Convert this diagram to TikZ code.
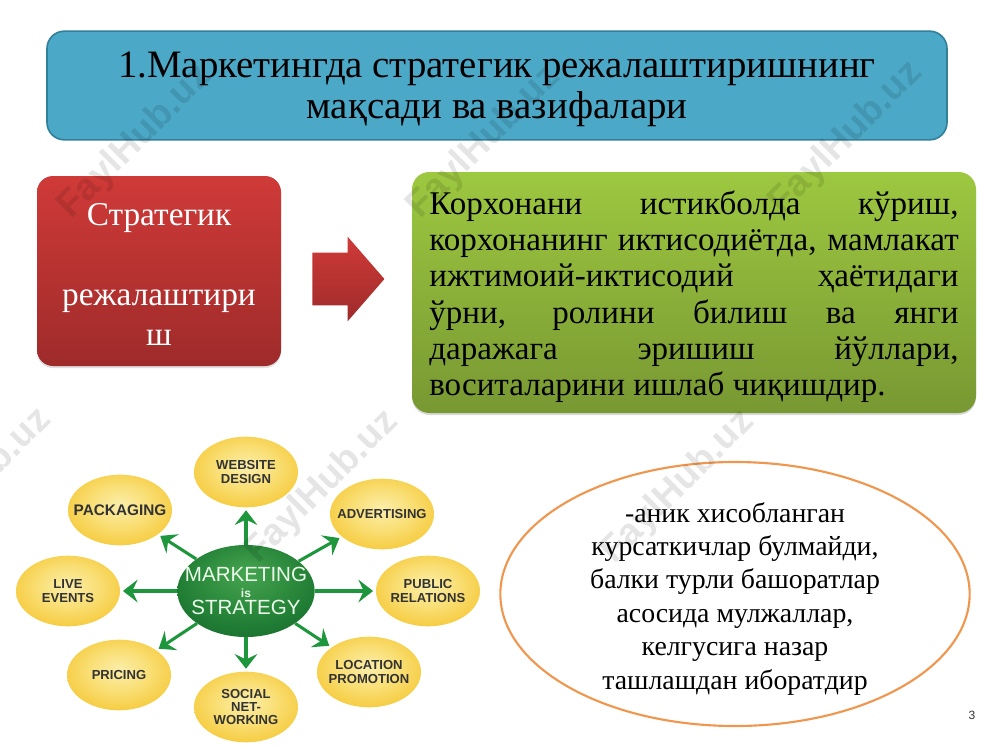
\documentclass[tikz,border=0pt]{standalone}
\usepackage{fontspec}
\setmainfont{Liberation Serif}
\newfontfamily\sansfont{Liberation Sans}
\usetikzlibrary{shapes.geometric, shapes.arrows, arrows.meta, shadows}

\definecolor{titlefill}{RGB}{75,168,199}
\definecolor{titleedge}{RGB}{49,128,154}
\definecolor{redtop}{RGB}{207,58,56}
\definecolor{redbot}{RGB}{158,43,42}
\definecolor{greentop}{RGB}{157,200,64}
\definecolor{greenbot}{RGB}{120,152,50}
\definecolor{ovaledge}{RGB}{240,151,79}
\definecolor{arrowgreen}{RGB}{30,150,60}
\definecolor{ballone}{RGB}{251,238,170}
\definecolor{balltwo}{RGB}{249,222,115}
\definecolor{ballthree}{RGB}{245,198,48}
\definecolor{ballfour}{RGB}{238,178,32}
\definecolor{hubone}{RGB}{70,165,80}
\definecolor{hubtwo}{RGB}{32,125,52}
\definecolor{hubthree}{RGB}{14,84,36}

\pgfdeclareradialshading{yellowball}{\pgfpoint{0bp}{4bp}}{
  color(0bp)=(ballone);
  color(15bp)=(balltwo);
  color(32bp)=(ballthree);
  color(50bp)=(ballfour);
  color(60bp)=(ballfour)}
\pgfdeclareradialshading{greenball}{\pgfpoint{0bp}{10bp}}{
  color(0bp)=(hubone);
  color(25bp)=(hubtwo);
  color(48bp)=(hubthree);
  color(60bp)=(hubthree)}

\newcommand{\firstline}[1]{\rule{0pt}{#1}}

\tikzset{
  titlebox/.style={draw=titleedge, line width=1.2pt, fill=titlefill, rounded corners=13pt, minimum width=675pt, minimum height=81.5pt, align=center, font=\fontsize{29.1}{31}\selectfont},
  redbox/.style={top color=redtop, bottom color=redbot, rounded corners=12pt, minimum width=183pt, minimum height=142.5pt, align=center, text=white, font=\fontsize{25}{30}\selectfont, drop shadow={opacity=.25, shadow xshift=0pt, shadow yshift=-1.5pt}},
  greenbox/.style={top color=greentop, bottom color=greenbot, rounded corners=13pt, minimum width=423pt, minimum height=180.75pt, font=\fontsize{24.8}{27.1}\selectfont, text width=397pt, align=justify, drop shadow={opacity=.3, shadow xshift=0pt, shadow yshift=-1.5pt}},
  redarrow/.style={single arrow, top color=redtop, bottom color=redbot, minimum height=54pt, single arrow head extend=12pt, single arrow tip angle=98, inner xsep=0pt, inner ysep=19.5pt},
  ovalnode/.style={ellipse, draw=ovaledge, line width=1.6pt, minimum width=352pt, minimum height=198pt, inner sep=-40pt, align=center, font=\fontsize{20.85}{25.1}\selectfont},
  ball/.style={ellipse, shading=yellowball, minimum width=78pt, minimum height=53pt, inner xsep=-22pt, inner ysep=-8pt, align=center, font=\sansfont\bfseries\fontsize{9.8}{10}\selectfont, text=black!80},
  hubball/.style={ellipse, shading=greenball, minimum width=103pt, minimum height=69pt, inner xsep=-30pt, inner ysep=-14pt, align=center, font=\sansfont\fontsize{15.4}{15}\selectfont, text=white!92!green},
  greenarrow/.style={draw=arrowgreen, line width=2.3pt, shorten >=2pt, -{Stealth[length=11pt, width=17pt, inset=4pt]}},
  watermark/.style={rotate=45, opacity=.1, font=\sansfont\bfseries\fontsize{28}{28}\selectfont, text=black},
}

\begin{document}
\begin{tikzpicture}[x=0.75pt,y=0.75pt,yscale=-1,xscale=1]
\useasboundingbox (0,0) rectangle (1000,750);
\node[titlebox] (title) at (497,85.5) {\firstline{25pt}1.Маркетингда стратегик режалаштиришнинг\\мақсади ва вазифалари};
\node[redbox] (plan) at (159,271) {\firstline{21pt}Стратегик\\ \\режалаштири\\ш};
\node[redarrow] (next) at (337,279) {};
\node[greenbox] (goal) at (694,292.5) {\firstline{24pt}Корхонани истикболда кўриш,\linebreak корхонанинг иктисодиётда, мамлакат\linebreak ижтимоий-иктисодий ҳаётидаги\linebreak ўрни, ролини билиш ва янги\linebreak даражага эришиш йўллари,\linebreak воситаларини ишлаб чиқишдир.};
\node[ovalnode] (note) at (735,594) {\firstline{22pt}-аник хисобланган\\курсаткичлар булмайди,\\балки турли башоратлар\\асосида мулжаллар,\\келгусига назар\\ташлашдан иборатдир};

\node[hubball] (hub) at (246,591) {MARKETING\\[-3pt]{\bfseries\fontsize{9}{9}\selectfont is}\\[-2pt]STRATEGY};
\node[ball] (website) at (246,472) {WEBSITE\\DESIGN};
\node[ball, font=\sansfont\bfseries\fontsize{11.5}{10}\selectfont] (packaging) at (120,510) {PACKAGING};
\node[ball] (advertising) at (382,514) {ADVERTISING};
\node[ball] (public) at (428,591) {PUBLIC\\RELATIONS};
\node[ball] (location) at (369,672) {LOCATION\\PROMOTION};
\node[ball] (social) at (246,707) {SOCIAL\\NET-\\WORKING};
\node[ball] (pricing) at (119,675) {PRICING};
\node[ball] (live) at (68,591) {LIVE\\EVENTS};

\draw[greenarrow] (hub) -- (website);
\draw[greenarrow] (hub) -- (packaging);
\draw[greenarrow] (hub) -- (advertising);
\draw[greenarrow] (hub) -- (public);
\draw[greenarrow] (hub) -- (location);
\draw[greenarrow] (hub) -- (social);
\draw[greenarrow] (hub) -- (pricing);
\draw[greenarrow] (hub) -- (live);

\node[font=\sansfont\fontsize{9}{9}\selectfont, text=black!80] (pagenum) at (972,715) {3};

\node[watermark] (markone) at (135,142) {FaylHub.uz};
\node[watermark] (marktwo) at (484,142) {FaylHub.uz};
\node[watermark] (markthree) at (846,138) {FaylHub.uz};
\node[watermark] (markfour) at (-25,485) {FaylHub.uz};
\node[watermark] (markfive) at (322,487) {FaylHub.uz};
\node[watermark] (marksix) at (678,487) {FaylHub.uz};
\end{tikzpicture}
\end{document}
